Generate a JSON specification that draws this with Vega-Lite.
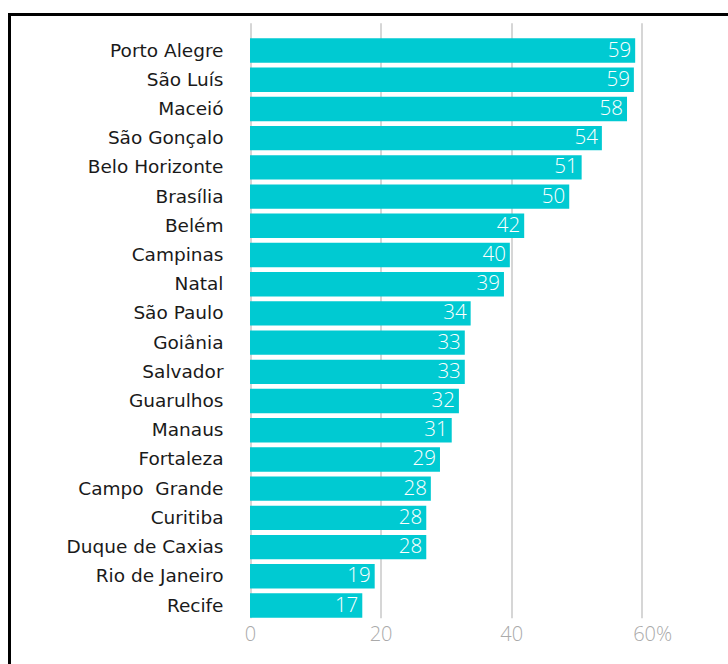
{
  "$schema": "https://vega.github.io/schema/vega-lite/v6.json",
  "width": 728.5,
  "height": 659.5,
  "autosize": {"type": "none"},
  "padding": {"left": 9.5, "top": 14.5, "right": -10, "bottom": -10},
  "background": "white",
  "config": {"view": {"stroke": "#000000", "strokeWidth": 3}},
  "data": {
    "values": [
      {"city": "Porto Alegre", "pct": 59.0, "label": "59"},
      {"city": "São Luís", "pct": 58.8, "label": "59"},
      {"city": "Maceió", "pct": 57.75, "label": "58"},
      {"city": "São Gonçalo", "pct": 53.9, "label": "54"},
      {"city": "Belo Horizonte", "pct": 50.8, "label": "51"},
      {"city": "Brasília", "pct": 48.9, "label": "50"},
      {"city": "Belém", "pct": 42.0, "label": "42"},
      {"city": "Campinas", "pct": 39.8, "label": "40"},
      {"city": "Natal", "pct": 38.9, "label": "39"},
      {"city": "São Paulo", "pct": 33.8, "label": "34"},
      {"city": "Goiânia", "pct": 32.9, "label": "33"},
      {"city": "Salvador", "pct": 32.9, "label": "33"},
      {"city": "Guarulhos", "pct": 32.0, "label": "32"},
      {"city": "Manaus", "pct": 30.9, "label": "31"},
      {"city": "Fortaleza", "pct": 29.1, "label": "29"},
      {"city": "Campo\u00a0 Grande", "pct": 27.7, "label": "28"},
      {"city": "Curitiba", "pct": 27.0, "label": "28"},
      {"city": "Duque de Caxias", "pct": 27.0, "label": "28"},
      {"city": "Rio de Janeiro", "pct": 19.1, "label": "19"},
      {"city": "Recife", "pct": 17.2, "label": "17"}
    ]
  },
  "encoding": {
    "y": {
      "field": "city",
      "type": "nominal",
      "sort": null,
      "scale": {"range": [8.2, 603.2], "paddingInner": 0.165, "paddingOuter": 0.2675, "align": 1, "round": false},
      "axis": {
        "title": null,
        "offset": -240.5,
        "domain": false,
        "ticks": false,
        "grid": false,
        "labelPadding": 27,
        "labelFont": "DejaVu Sans",
        "labelFontSize": 18.5,
        "labelColor": "#1a1a1a"
      }
    }
  },
  "layer": [
    {
      "mark": {"type": "bar", "color": "#00CAD2"},
      "encoding": {
        "x": {
          "field": "pct",
          "type": "quantitative",
          "scale": {"domain": [-36.84, 74.75], "nice": false, "zero": false},
          "axis": {
            "orient": "top",
            "title": null,
            "values": [0, 20, 40, 60],
            "grid": true,
            "gridColor": "#c8c8c8",
            "gridWidth": 1.5,
            "domain": false,
            "ticks": false,
            "offset": -600.5,
            "labelPadding": -9,
            "labelBaseline": "top",
            "labelFont": "Open Sans",
            "labelFontSize": 20,
            "labelFontWeight": 300,
            "labelColor": "#aaaaaa",
            "labelFlush": false,
            "labelExpr": "datum.value == 60 ? '60%' : datum.label",
            "labelAlign": {"condition": {"test": "datum.value == 60", "value": "left"}, "value": "center"},
            "labelOffset": {"condition": {"test": "datum.value == 60", "value": -9}, "value": 0}
          }
        },
        "x2": {"datum": 0}
      }
    },
    {
      "mark": {"type": "text", "align": "right", "dx": -4, "baseline": "middle", "color": "white", "font": "Open Sans", "fontSize": 20.5, "fontWeight": 300},
      "encoding": {
        "x": {"field": "pct", "type": "quantitative"},
        "text": {"field": "label"}
      }
    }
  ]
}
